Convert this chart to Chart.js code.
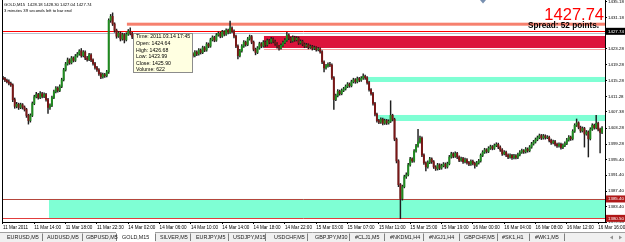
<!DOCTYPE html>
<html lang="en">
<head>
<meta charset="UTF-8">
<title>GOLD,M15</title>
<script src="https://cdn.jsdelivr.net/npm/chart.js"></script>
<style>
    body, html { margin: 0; padding: 0; background: #fff; }
    canvas { display: block; }
</style>
</head>
<body>
<canvas id="chart" width="625" height="242"></canvas>
<script>
// M15 candles, one per bar
const opens = [
 1416.0,1415.8,1415.4,1415.0,1414.6,1414.2,1410.5,1408.8,1409.3,1408.5,
 1409.2,1408.6,1408.0,1406.5,1405.2,1406.5,1409.5,1411.2,1411.8,1411.0,
 1412.0,1411.3,1411.8,1410.5,1408.5,1409.0,1411.0,1412.5,1413.4,1412.8,
 1413.8,1415.5,1418.0,1419.5,1420.5,1419.8,1421.0,1420.4,1421.5,1422.0,
 1422.8,1421.6,1422.5,1421.0,1420.6,1421.8,1420.5,1419.6,1418.6,1418.0,
 1417.0,1416.2,1416.8,1416.5,1417.5,1430.5,1431.5,1429.6,1428.0,1426.5,
 1427.3,1425.8,1426.9,1425.6,1427.0,1427.8,1427.2,1426.3,1425.5,1424.8,
 1425.3,1424.2,1423.6,1424.4,1423.0,1422.5,1423.2,1422.0,1421.4,1422.3,
 1421.7,1422.8,1423.5,1422.9,1424.0,1423.3,1422.6,1423.8,1424.5,1423.9,
 1423.2,1422.4,1421.8,1422.6,1421.5,1422.2,1423.0,1422.1,1421.6,1422.5,
 1422.0,1423.0,1422.4,1423.6,1423.0,1424.5,1424.0,1425.6,1426.2,1425.5,
 1426.8,1427.2,1426.5,1427.6,1427.0,1428.0,1427.5,1428.6,1427.8,1426.5,
 1424.0,1421.6,1422.8,1424.0,1425.0,1424.4,1425.8,1426.4,1425.0,1423.2,
 1422.4,1423.5,1424.6,1424.0,1425.0,1424.3,1425.4,1425.0,1425.8,1425.2,
 1424.6,1423.9,1423.5,1424.2,1424.9,1425.5,1426.8,1426.0,1425.3,1426.2,
 1425.6,1426.0,1424.8,1425.2,1424.5,1424.0,1424.3,1423.7,1423.9,1423.4,
 1423.6,1423.1,1423.3,1422.6,1420.0,1418.5,1419.0,1419.4,1419.2,1416.0,
 1410.5,1411.5,1412.6,1412.0,1412.8,1413.2,1413.8,1414.4,1414.0,1415.0,
 1415.5,1415.0,1415.8,1415.4,1415.9,1416.4,1416.0,1414.8,1413.0,1412.0,
 1409.5,1406.8,1405.2,1404.8,1405.5,1404.5,1405.2,1404.6,1405.0,1406.5,
 1405.5,1400.5,1395.0,1389.0,1385.5,1388.5,1391.0,1391.5,1394.0,1395.5,
 1395.0,1397.5,1398.8,1399.8,1400.8,1396.5,1394.5,1393.5,1394.6,1395.5,
 1394.8,1393.5,1393.0,1394.0,1393.2,1393.8,1394.2,1393.5,1394.3,1396.0,
 1396.8,1396.2,1396.9,1396.0,1395.2,1395.6,1394.8,1395.3,1394.6,1394.2,
 1394.9,1394.4,1393.9,1394.5,1395.0,1396.4,1397.2,1397.8,1397.4,1398.2,
 1398.6,1398.2,1398.9,1399.2,1398.5,1397.8,1396.8,1397.2,1396.5,1396.0,
 1396.4,1395.8,1396.3,1395.9,1396.6,1397.2,1397.6,1397.3,1398.0,1397.6,
 1398.5,1399.3,1399.8,1400.4,1400.9,1401.4,1400.8,1401.3,1400.9,1401.0,
 1400.2,1399.6,1399.9,1399.2,1398.8,1399.2,1398.4,1398.9,1399.4,1400.3,
 1401.0,1400.6,1402.5,1404.0,1404.6,1403.5,1402.6,1403.2,1401.8,1402.3,
 1400.6,1403.0,1404.0,1403.4,1404.5,1403.0,1402.2
];
const highs = [
 1416.4,1416.1,1415.7,1415.5,1414.9,1414.5,1410.9,1409.8,1409.6,1409.6,
 1409.5,1408.9,1408.3,1406.8,1406.9,1409.9,1411.6,1412.3,1412.1,1412.5,
 1412.3,1412.2,1412.1,1410.8,1409.4,1411.4,1412.9,1413.8,1413.7,1414.2,
 1415.9,1418.4,1419.9,1421.0,1420.8,1421.4,1421.3,1421.9,1422.4,1423.1,
 1423.4,1422.9,1422.8,1421.4,1422.2,1422.1,1420.8,1419.9,1418.9,1418.3,
 1417.3,1417.2,1417.1,1417.9,1430.9,1432.0,1432.4,1429.9,1428.3,1427.7,
 1427.6,1427.3,1427.2,1427.4,1428.2,1428.6,1427.5,1426.6,1425.8,1425.7,
 1425.6,1424.5,1424.8,1424.7,1423.3,1423.6,1423.5,1422.3,1422.7,1422.6,
 1423.2,1423.9,1423.8,1424.4,1424.3,1423.6,1424.2,1424.9,1424.8,1424.2,
 1423.5,1422.7,1423.0,1422.9,1422.6,1423.4,1423.3,1422.4,1422.9,1422.8,
 1423.4,1423.3,1424.0,1423.9,1424.9,1424.8,1426.0,1426.6,1426.5,1427.2,
 1427.6,1427.5,1428.0,1427.9,1428.4,1428.3,1430.3,1428.9,1428.1,1426.8,
 1424.3,1423.2,1424.4,1425.4,1425.3,1426.2,1426.8,1426.7,1425.3,1423.5,
 1423.9,1425.0,1424.9,1425.4,1425.3,1425.8,1425.7,1426.2,1426.1,1425.5,
 1424.9,1424.2,1424.6,1425.3,1425.9,1427.5,1427.1,1426.3,1426.6,1426.5,
 1426.4,1426.3,1425.6,1425.5,1424.8,1424.7,1424.6,1424.3,1424.2,1424.0,
 1423.9,1423.7,1423.6,1422.9,1420.3,1419.4,1419.8,1419.9,1419.5,1416.3,
 1411.9,1413.0,1412.9,1413.2,1413.6,1414.2,1414.8,1414.7,1415.4,1415.9,
 1415.8,1416.2,1416.1,1416.3,1417.0,1416.7,1416.3,1415.1,1413.3,1412.3,
 1409.8,1407.1,1405.5,1405.9,1405.8,1405.6,1405.5,1405.4,1410.2,1406.8,
 1405.8,1400.8,1395.3,1389.3,1388.9,1391.4,1392.0,1394.4,1395.9,1395.8,
 1397.9,1399.2,1403.0,1401.3,1401.1,1396.8,1394.8,1395.0,1395.9,1395.8,
 1395.1,1393.8,1394.4,1394.3,1394.2,1394.6,1394.5,1394.7,1396.4,1397.2,
 1397.1,1397.3,1397.2,1396.3,1396.0,1395.9,1395.7,1395.6,1394.9,1395.3,
 1395.2,1394.7,1394.9,1395.4,1396.8,1397.6,1398.2,1398.1,1398.6,1399.0,
 1398.9,1399.3,1399.6,1399.5,1398.8,1398.1,1397.6,1397.5,1396.8,1396.8,
 1396.7,1396.7,1396.6,1397.0,1397.6,1398.0,1397.9,1398.4,1398.3,1398.9,
 1399.7,1400.2,1400.8,1401.3,1401.8,1401.7,1401.7,1401.6,1401.4,1401.3,
 1400.5,1400.3,1400.2,1399.5,1399.6,1399.5,1399.3,1399.8,1400.7,1401.4,
 1401.3,1402.9,1404.4,1405.6,1404.9,1403.8,1403.6,1403.5,1402.7,1402.6,
 1403.4,1404.4,1404.3,1406.5,1404.8,1403.3,1403.7
];
const lows = [
 1415.5,1415.0,1414.7,1414.2,1413.8,1410.0,1408.3,1408.4,1408.0,1408.2,
 1408.1,1407.6,1406.0,1404.3,1404.8,1406.2,1409.2,1410.9,1410.6,1410.7,
 1410.9,1411.0,1410.1,1407.0,1408.0,1408.7,1410.7,1412.2,1412.4,1412.5,
 1413.5,1415.2,1417.7,1419.2,1419.4,1419.5,1420.0,1420.1,1421.2,1421.7,
 1421.2,1421.3,1420.6,1420.2,1420.3,1420.1,1419.2,1418.2,1417.6,1416.6,
 1415.8,1415.9,1416.1,1416.2,1417.1,1430.0,1429.2,1427.5,1426.0,1426.2,
 1425.3,1425.5,1424.8,1425.3,1426.7,1426.8,1425.9,1425.1,1424.4,1424.5,
 1423.8,1423.2,1423.3,1422.6,1422.1,1422.2,1421.6,1421.0,1421.1,1421.3,
 1421.4,1422.5,1422.5,1422.6,1422.9,1422.2,1422.3,1423.5,1423.5,1422.8,
 1422.0,1421.4,1421.5,1421.1,1421.2,1421.9,1421.7,1421.2,1421.3,1421.6,
 1421.7,1422.0,1422.1,1422.6,1422.7,1423.6,1423.7,1425.3,1425.1,1425.2,
 1426.5,1426.1,1426.2,1426.6,1426.7,1427.1,1427.2,1427.4,1426.1,1423.6,
 1420.8,1421.3,1422.5,1423.7,1424.0,1424.1,1425.5,1424.6,1422.8,1421.8,
 1422.1,1423.2,1423.6,1423.7,1423.9,1424.0,1424.6,1424.7,1424.8,1424.2,
 1423.5,1423.0,1423.2,1423.9,1424.6,1425.2,1425.6,1424.9,1425.0,1425.2,
 1425.3,1424.4,1424.5,1424.1,1423.6,1423.7,1423.3,1423.4,1423.0,1423.1,
 1422.7,1422.8,1422.2,1419.6,1417.5,1418.2,1418.7,1418.8,1415.6,1408.0,
 1410.2,1411.2,1411.6,1411.7,1412.5,1412.9,1413.5,1413.6,1413.7,1414.7,
 1414.6,1414.7,1415.0,1415.1,1415.6,1415.6,1414.4,1412.6,1411.6,1409.1,
 1406.4,1404.8,1404.4,1404.5,1404.1,1404.2,1404.2,1404.3,1404.7,1405.1,
 1400.1,1394.5,1388.5,1380.4,1385.1,1388.2,1390.6,1391.2,1393.7,1394.6,
 1394.7,1397.2,1398.5,1399.5,1396.1,1394.1,1392.5,1393.2,1394.3,1394.4,
 1393.1,1392.6,1392.7,1392.8,1392.9,1393.5,1393.1,1393.2,1394.0,1395.7,
 1395.8,1395.9,1395.6,1394.8,1394.9,1394.4,1394.5,1394.2,1393.8,1393.9,
 1394.0,1393.2,1393.6,1394.2,1394.7,1396.1,1396.9,1397.0,1397.1,1397.9,
 1397.8,1397.9,1398.6,1398.1,1397.4,1396.4,1396.5,1396.1,1395.6,1395.7,
 1395.4,1395.5,1395.5,1395.6,1396.3,1396.9,1396.9,1397.0,1397.2,1397.3,
 1398.2,1399.0,1399.5,1400.1,1400.6,1400.4,1400.5,1400.5,1400.6,1399.8,
 1399.2,1399.3,1398.8,1398.4,1398.5,1398.0,1398.1,1398.6,1399.1,1400.0,
 1400.2,1400.3,1402.2,1403.7,1403.1,1402.2,1402.3,1398.5,1401.5,1396.0,
 1400.3,1402.7,1403.0,1403.1,1402.6,1397.0,1401.9
];
const closes = [
 1415.8,1415.4,1415.0,1414.6,1414.2,1410.5,1408.8,1409.3,1408.5,1409.2,
 1408.6,1408.0,1406.5,1405.2,1406.5,1409.5,1411.2,1411.8,1411.0,1412.0,
 1411.3,1411.8,1410.5,1408.5,1409.0,1411.0,1412.5,1413.4,1412.8,1413.8,
 1415.5,1418.0,1419.5,1420.5,1419.8,1421.0,1420.4,1421.5,1422.0,1422.8,
 1421.6,1422.5,1421.0,1420.6,1421.8,1420.5,1419.6,1418.6,1418.0,1417.0,
 1416.2,1416.8,1416.5,1417.5,1430.5,1431.5,1429.6,1428.0,1426.5,1427.3,
 1425.8,1426.9,1425.6,1427.0,1427.8,1427.2,1426.3,1425.5,1424.8,1425.3,
 1424.2,1423.6,1424.4,1423.0,1422.5,1423.2,1422.0,1421.4,1422.3,1421.7,
 1422.8,1423.5,1422.9,1424.0,1423.3,1422.6,1423.8,1424.5,1423.9,1423.2,
 1422.4,1421.8,1422.6,1421.5,1422.2,1423.0,1422.1,1421.6,1422.5,1422.0,
 1423.0,1422.4,1423.6,1423.0,1424.5,1424.0,1425.6,1426.2,1425.5,1426.8,
 1427.2,1426.5,1427.6,1427.0,1428.0,1427.5,1428.6,1427.8,1426.5,1424.0,
 1421.6,1422.8,1424.0,1425.0,1424.4,1425.8,1426.4,1425.0,1423.2,1422.4,
 1423.5,1424.6,1424.0,1425.0,1424.3,1425.4,1425.0,1425.8,1425.2,1424.6,
 1423.9,1423.5,1424.2,1424.9,1425.5,1426.8,1426.0,1425.3,1426.2,1425.6,
 1426.0,1424.8,1425.2,1424.5,1424.0,1424.3,1423.7,1423.9,1423.4,1423.6,
 1423.1,1423.3,1422.6,1420.0,1418.5,1419.0,1419.4,1419.2,1416.0,1410.5,
 1411.5,1412.6,1412.0,1412.8,1413.2,1413.8,1414.4,1414.0,1415.0,1415.5,
 1415.0,1415.8,1415.4,1415.9,1416.4,1416.0,1414.8,1413.0,1412.0,1409.5,
 1406.8,1405.2,1404.8,1405.5,1404.5,1405.2,1404.6,1405.0,1406.5,1405.5,
 1400.5,1395.0,1389.0,1385.5,1388.5,1391.0,1391.5,1394.0,1395.5,1395.0,
 1397.5,1398.8,1399.8,1400.8,1396.5,1394.5,1393.5,1394.6,1395.5,1394.8,
 1393.5,1393.0,1394.0,1393.2,1393.8,1394.2,1393.5,1394.3,1396.0,1396.8,
 1396.2,1396.9,1396.0,1395.2,1395.6,1394.8,1395.3,1394.6,1394.2,1394.9,
 1394.4,1393.9,1394.5,1395.0,1396.4,1397.2,1397.8,1397.4,1398.2,1398.6,
 1398.2,1398.9,1399.2,1398.5,1397.8,1396.8,1397.2,1396.5,1396.0,1396.4,
 1395.8,1396.3,1395.9,1396.6,1397.2,1397.6,1397.3,1398.0,1397.6,1398.5,
 1399.3,1399.8,1400.4,1400.9,1401.4,1400.8,1401.3,1400.9,1401.0,1400.2,
 1399.6,1399.9,1399.2,1398.8,1399.2,1398.4,1398.9,1399.4,1400.3,1401.0,
 1400.6,1402.5,1404.0,1404.6,1403.5,1402.6,1403.2,1401.8,1402.3,1400.6,
 1403.0,1404.0,1403.4,1404.5,1403.0,1402.2,1403.3
];

// time labels, one every 16 bars
const timeLabels = ['11 Mar 2011','11 Mar 14:00','11 Mar 18:00','11 Mar 22:30','14 Mar 02:00',
    '14 Mar 06:00','14 Mar 10:00','14 Mar 14:00','14 Mar 18:00','14 Mar 22:00','15 Mar 03:00',
    '15 Mar 07:00','15 Mar 11:00','15 Mar 15:00','15 Mar 19:00','16 Mar 00:00','16 Mar 04:00',
    '16 Mar 08:00','16 Mar 12:00','16 Mar 16:00'];
const priceTicks = [1435.18, 1431.18, 1423.28, 1419.28, 1415.28, 1411.28, 1407.38, 1403.28,
    1399.28, 1395.40, 1391.40, 1387.40, 1383.40, 1379.58];

// zones: first bar, upper price, lower price
const zoneStart = [63.3, 133.3, 185.9, 191.5, 23.5];
const zoneTop = [1429.92, 1426.56, 1416.21, 1406.61, 1385.40];
const zoneBottom = [1429.16, 1423.53, 1414.94, 1405.09, 1380.50];
const zoneColors = ['#f6806e', '#dc143c', '#7fffd4', '#7fffd4', '#7fffd4'];

// horizontal levels across the whole chart
const levelPrices = [1427.74, 1427.3, 1423.3, 1385.40, 1380.50];
const levelColors = ['#ff0000', '#b8bfcc', '#f4a0a0', '#b4463c', '#e23c3c'];

// boxed prices on the right axis
const markPrices = [1427.74, 1385.40, 1380.50];
const markColors = ['#000000', '#b01818', '#b01818'];

const tooltipLines = ['Time: 2011.03.14 17:45', 'Open: 1424.64', 'High: 1426.68',
    'Low: 1423.99', 'Close: 1425.90', 'Volume: 622'];

const tabNames = ['EURUSD,M5','AUDUSD,M5','GBPUSD,M5','GOLD,M15','SILVER,M5','EURJPY,M5',
    'USDJPY,M15','USDCHF,M5','GBPJPY,M30','#CLJ1,M5','#NKDM1,H4','#NGJ1,H4','GBPCHF,M5',
    '#SK1,H1','#WK1,M5'];
const tabX = [7, 47, 86, 122, 160, 196, 233, 274, 315, 355, 390, 429, 464, 502, 535];
const tabSep = [42, 82, 116, 155, 190, 228, 265, 307, 349, 384, 423, 459, 497, 529, 564];

const bull = '#1e8c1e', bear = '#7a1616', wick = '#1e1e1e';
const FONT = '"Liberation Sans", Arial, sans-serif';

const overlay = {
    id: 'overlay',
    beforeDatasetsDraw(chart) {
        const {ctx, chartArea: a, scales: {x, y}} = chart;
        ctx.save();
        ctx.beginPath();
        ctx.rect(a.left, a.top, a.right - a.left, a.bottom - a.top);
        ctx.clip();
        zoneStart.forEach((s, k) => {
            const x0 = x.getPixelForValue(s);
            const y0 = y.getPixelForValue(zoneTop[k]);
            const y1 = y.getPixelForValue(zoneBottom[k]);
            ctx.fillStyle = zoneColors[k];
            ctx.fillRect(x0, y0, a.right - x0, y1 - y0);
        });
        levelPrices.forEach((p, k) => {
            const py = Math.round(y.getPixelForValue(p)) + 0.5;
            ctx.strokeStyle = levelColors[k];
            ctx.lineWidth = 1;
            ctx.beginPath();
            const x0 = k === 2 ? x.getPixelForValue(zoneStart[1]) : a.left;
            ctx.moveTo(x0, py);
            ctx.lineTo(a.right, py);
            ctx.stroke();
        });
        ctx.restore();
    },
    afterDraw(chart) {
        const {ctx, chartArea: a, scales: {y}} = chart;
        ctx.save();

        // left frame
        ctx.strokeStyle = '#000';
        ctx.lineWidth = 1;
        ctx.beginPath();
        ctx.moveTo(a.left + 0.5, 0);
        ctx.lineTo(a.left + 0.5, a.bottom);
        ctx.stroke();

        // boxed prices on the axis
        ctx.font = '4.4px ' + FONT;
        ctx.textBaseline = 'middle';
        ctx.textAlign = 'left';
        markPrices.forEach((p, k) => {
            const py = y.getPixelForValue(p);
            ctx.fillStyle = markColors[k];
            ctx.fillRect(a.right + 1, py - 3.5, 19, 7);
            ctx.fillStyle = '#fff';
            ctx.fillText(p.toFixed(2), a.right + 3, py);
        });

        // header text
        ctx.fillStyle = '#000';
        ctx.font = '4.2px ' + FONT;
        ctx.textBaseline = 'alphabetic';
        ctx.fillText('GOLD,M15  1428.18 1428.30 1427.04 1427.74', 4, 6);
        ctx.fillText('3 minutes 39 seconds left to bar end', 4, 11.5);

        ctx.textAlign = 'right';
        ctx.fillStyle = '#ff0000';
        ctx.font = '16.5px ' + FONT;
        ctx.fillText('1427.74', 604, 20);
        ctx.fillStyle = '#000';
        ctx.font = 'bold 8.2px ' + FONT;
        ctx.fillText('Spread: 52 points.', 599, 28);

        // shift marker
        ctx.fillStyle = '#7890b0';
        ctx.beginPath();
        ctx.moveTo(480, 0); ctx.lineTo(486, 0); ctx.lineTo(483, 3.5);
        ctx.closePath(); ctx.fill();

        // data window tooltip
        ctx.fillStyle = '#ffffe1';
        ctx.fillRect(133.5, 33.5, 59, 39);
        ctx.strokeStyle = '#8c8c8c';
        ctx.strokeRect(133.5, 33.5, 59, 39);
        ctx.fillStyle = '#000';
        ctx.font = '5.2px ' + FONT;
        ctx.textAlign = 'left';
        ctx.textBaseline = 'middle';
        tooltipLines.forEach((t, k) => ctx.fillText(t, 136, 36.8 + k * 6.65));

        // tab bar
        const w = chart.width;
        ctx.fillStyle = '#f0f0f0';
        ctx.fillRect(0, 232, w, 10);
        ctx.strokeStyle = '#a0a0a0';
        ctx.beginPath(); ctx.moveTo(0, 232.5); ctx.lineTo(w, 232.5); ctx.stroke();
        ctx.fillStyle = '#fff';
        ctx.fillRect(116, 232, 39, 10);
        ctx.strokeStyle = '#808080';
        tabSep.forEach(sx => {
            ctx.beginPath(); ctx.moveTo(sx + 0.5, 233.5); ctx.lineTo(sx + 0.5, 241); ctx.stroke();
        });
        ctx.fillStyle = '#202020';
        ctx.font = '5.4px ' + FONT;
        tabNames.forEach((t, k) => ctx.fillText(t, tabX[k], 237.5));
        ctx.fillStyle = '#909090';
        ctx.beginPath(); ctx.moveTo(610, 237.5); ctx.lineTo(613, 235.5); ctx.lineTo(613, 239.5); ctx.closePath(); ctx.fill();
        ctx.beginPath(); ctx.moveTo(622, 237.5); ctx.lineTo(619, 235.5); ctx.lineTo(619, 239.5); ctx.closePath(); ctx.fill();
        ctx.restore();
    }
};

const ctx = document.getElementById('chart').getContext('2d');
const chart = new Chart(ctx, {
    type: 'bar',
    data: {
        datasets: [{
            label: 'body',
            data: opens.map((o, i) => ({x: i, y: [o, closes[i]]})),
            backgroundColor: c => closes[c.dataIndex] >= opens[c.dataIndex] ? bull : bear,
            barThickness: 1.3,
            grouped: false,
            order: 0
        }, {
            label: 'wick',
            data: lows.map((l, i) => ({x: i, y: [l, highs[i]]})),
            backgroundColor: wick,
            barThickness: 0.8,
            grouped: false,
            order: 1
        }]
    },
    options: {
        responsive: false,
        animation: false,
        events: [],
        layout: {padding: {left: 2, right: 0, top: 0, bottom: 10}, autoPadding: false},
        plugins: {legend: {display: false}, tooltip: {enabled: false}},
        scales: {
            x: {
                type: 'linear',
                offset: false,
                min: -0.5,
                max: closes.length + 0.5,
                afterBuildTicks: s => { s.ticks = timeLabels.map((_, k) => ({value: k * 16})); },
                afterFit: s => { s.height = 10; s.paddingLeft = 0; s.paddingRight = 0; },
                grid: {drawOnChartArea: false, offset: false, tickLength: 2, color: '#000'},
                border: {color: '#000'},
                ticks: {
                    autoSkip: false, maxRotation: 0, align: 'start', padding: 1,
                    color: '#000', font: {size: 4.6, family: FONT},
                    callback: (v, i) => timeLabels[i]
                }
            },
            y: {
                position: 'right',
                min: 1379.58,
                max: 1435.65,
                afterBuildTicks: s => { s.ticks = priceTicks.map(v => ({value: v})); },
                afterFit: s => { s.width = 20; s.paddingTop = 0; s.paddingBottom = 0; },
                grid: {drawOnChartArea: false, tickLength: 2, color: '#000'},
                border: {color: '#000'},
                ticks: {
                    padding: 1, color: '#000', font: {size: 4.4, family: FONT},
                    callback: v => v.toFixed(2)
                }
            }
        }
    },
    plugins: [overlay]
});
</script>
</body>
</html>
